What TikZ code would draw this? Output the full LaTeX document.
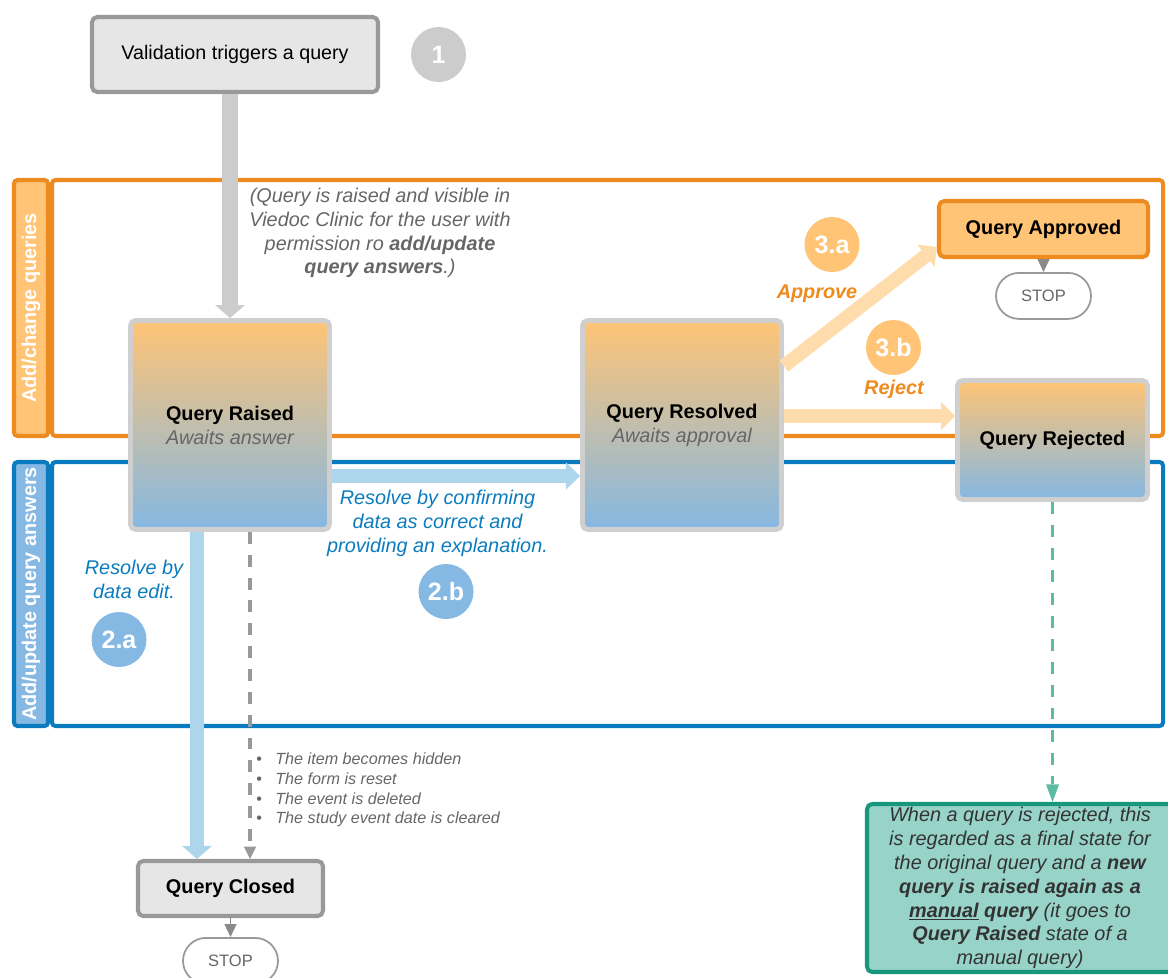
\documentclass[tikz,border=0pt]{standalone}
\usepackage{fontspec}
\setmainfont{Liberation Sans}
\usepackage{tikz}
\usetikzlibrary{arrows.meta,positioning}
\definecolor{chgOrange}{HTML}{EE8B1E}
\definecolor{chgLight}{HTML}{FFC475}
\definecolor{chgArrow}{HTML}{FFDCAB}
\definecolor{ansBlue}{HTML}{0B7BBF}
\definecolor{ansLight}{HTML}{85B8E3}
\definecolor{ansArrow}{HTML}{ADD6EC}
\definecolor{midShade}{HTML}{DAD1B8}
\definecolor{noteGreen}{HTML}{17977B}
\definecolor{noteFill}{HTML}{97D3C8}
\definecolor{noteDash}{HTML}{5BBBA3}
\definecolor{noteText}{HTML}{333333}
\definecolor{boxGray}{HTML}{CFCFCF}
\definecolor{boxFill}{HTML}{E6E6E6}
\definecolor{lineGray}{HTML}{999999}
\definecolor{arrGray}{HTML}{CCCCCC}
\definecolor{txtGray}{HTML}{666666}
\newlength{\pxu}
\setlength{\pxu}{0.02cm}
\newcommand{\txtsize}{\fontsize{11.3}{13.6}\selectfont}

\begin{document}
\begin{tikzpicture}[x=0.02cm,y=-0.02cm,
  statebox/.style={draw=boxGray,line width=2.8pt,rounded corners=3pt,top color=chgLight,middle color=midShade,bottom color=ansLight,minimum width=199\pxu,minimum height=209\pxu,align=center,font=\txtsize,inner sep=0pt},
  greybox/.style={draw=lineGray,line width=2.3pt,rounded corners=3pt,fill=boxFill,align=center,font=\txtsize,inner sep=0pt},
  stopbox/.style={draw=lineGray,line width=1pt,fill=white,rounded corners=23\pxu,minimum width=95\pxu,minimum height=46\pxu,font=\fontsize{9.4}{11}\selectfont,text=txtGray,inner sep=0pt},
  lane/.style={line width=2.3pt,rounded corners=2pt,inner sep=0pt},
  lanetag/.style={lane,rotate=90,minimum height=34\pxu,text=white,font=\bfseries\fontsize{11.3}{13}\selectfont},
  badge/.style={circle,minimum size=55\pxu,inner sep=0pt,text=white,font=\bfseries\fontsize{14.3}{16}\selectfont},
  grayfat/.style={draw=arrGray,line width=9.6pt,-{Triangle[length=7.4pt,width=17pt,line width=0pt]}},
  bluefat/.style={draw=ansArrow,line width=8.5pt,-{Triangle[length=8pt,width=15.5pt,line width=0pt]}},
  orangefat/.style={draw=chgArrow,line width=7.9pt,-{Triangle[length=8pt,width=16pt,line width=0pt]}},
  endtip/.style={draw=lineGray!90!black,line width=0.8pt,-{Triangle[length=7.4pt,width=6.8pt]}},
  dashconn/.style={line width=2pt,dash pattern=on 6.8pt off 6.2pt}
]
\useasboundingbox (0,0) rectangle (1168,977);

% swim lanes
\node[lane,draw=chgOrange,minimum width=1111\pxu,minimum height=256\pxu] (chgLane) at (607.5,308) {};
\node[lanetag,draw=chgOrange,fill=chgLight,minimum width=256\pxu] (chgTag) at (31,308) {Add/change queries};
\node[lane,draw=ansBlue,minimum width=1111\pxu,minimum height=264\pxu] (ansLane) at (607.5,594) {};
\node[lanetag,draw=ansBlue,fill=ansLight,minimum width=264\pxu] (ansTag) at (31,594) {Add/update query answers};

% states
\node[greybox,minimum width=286\pxu,minimum height=75\pxu,font=\fontsize{11.2}{13}\selectfont] (valid) at (235,54.5) {Validation triggers a query};
\node[badge,fill=arrGray] (one) at (438.5,54.5) {1};
\node[statebox] (raised) at (230,425) {\textbf{Query Raised}\\\textcolor{txtGray}{\itshape Awaits answer}};
\node[statebox] (resolved) at (682,425) {\textbf{Query Resolved}\\\textcolor{txtGray}{\itshape Awaits approval}};
\node[greybox,draw=chgOrange,fill=chgLight,minimum width=209\pxu,minimum height=56\pxu] (approved) at (1043.5,229) {\textbf{Query Approved}};
\node[stopbox,below=7.4pt of approved] (stopA) {STOP};
\node[statebox,minimum width=190\pxu,minimum height=119\pxu] (rejected) at (1052.5,440) {\textbf{Query Rejected}};
\node[greybox,minimum width=185\pxu,minimum height=55\pxu] (closed) at (230.5,888.5) {\textbf{Query Closed}};
\node[stopbox,below=10.8pt of closed] (stopC) {STOP};
\node[draw=noteGreen,fill=noteFill,line width=2.3pt,rounded corners=3pt,minimum width=306\pxu,minimum height=168\pxu,align=center,font=\itshape\txtsize,text=noteText,inner sep=0pt] (note) at (1020,888)
  {When a query is rejected, this\\is regarded as a final state for\\the original query and a \textbf{new}\\\textbf{query is raised again as a}\\\textbf{\underline{manual} query} (it goes to\\\textbf{Query Raised} state of a\\manual query)};

% labels and step numbers
\node[align=center,font=\itshape\txtsize,text=txtGray] (raiseNote) at (380,233) {(Query is raised and visible in\\Viedoc Clinic for the user with\\permission ro \textbf{add/update}\\\textbf{query answers}.)};
\node[badge,fill=chgLight] (stepThreeA) at (832,244.5) {3.a};
\node[font=\bfseries\itshape\txtsize,text=chgOrange] (approveLbl) at (817,294) {Approve};
\node[badge,fill=chgLight] (stepThreeB) at (893.5,347.5) {3.b};
\node[font=\bfseries\itshape\txtsize,text=chgOrange] (rejectLbl) at (894,389) {Reject};
\node[align=center,font=\itshape\txtsize,text=ansBlue] (confirmLbl) at (437.5,523) {Resolve by confirming\\data as correct and\\providing an explanation.};
\node[badge,fill=ansLight] (stepTwoB) at (446,591.5) {2.b};
\node[align=center,font=\itshape\txtsize,text=ansBlue] (editLbl) at (134,579) {Resolve by\\data edit.};
\node[badge,fill=ansLight] (stepTwoA) at (119,639.5) {2.a};
\node[anchor=west,align=left,inner sep=0pt,font=\itshape\fontsize{9.2}{11.3}\selectfont,text=txtGray] (effects) at (256,790)
  {\makebox[19\pxu][l]{\textup{\textbullet}}The item becomes hidden\\
   \makebox[19\pxu][l]{\textup{\textbullet}}The form is reset\\
   \makebox[19\pxu][l]{\textup{\textbullet}}The event is deleted\\
   \makebox[19\pxu][l]{\textup{\textbullet}}The study event date is cleared};

% transitions
\draw[grayfat] (raised.north |- valid.south) -- (raised.north);
\draw[bluefat] ([yshift=-51\pxu]raised.east) -- ([yshift=-51\pxu]resolved.west);
\draw[bluefat,-{Triangle[length=7.4pt,width=17pt,line width=0pt]}] ([xshift=-33\pxu]raised.south) -- ([xshift=-33\pxu]raised.south |- closed.north);
\draw[dashconn,draw=lineGray,-{Triangle[length=7pt,width=7pt,line width=0pt]}] ([xshift=20\pxu]raised.south) -- ([xshift=20\pxu]raised.south |- closed.north);
\draw[orangefat] ([yshift=59\pxu]resolved.east) -- ([yshift=-18\pxu]approved.west);
\draw[orangefat] ([yshift=9\pxu]resolved.east) -- ([yshift=9\pxu]resolved.east -| rejected.west);
\draw[endtip] (approved) -- (stopA);
\draw[endtip] (closed) -- (stopC);
\draw[dashconn,draw=noteDash,-{Triangle[length=10pt,width=7.4pt,line width=0pt]}] (rejected.south) -- (rejected.south |- note.north);
\end{tikzpicture}
\end{document}
